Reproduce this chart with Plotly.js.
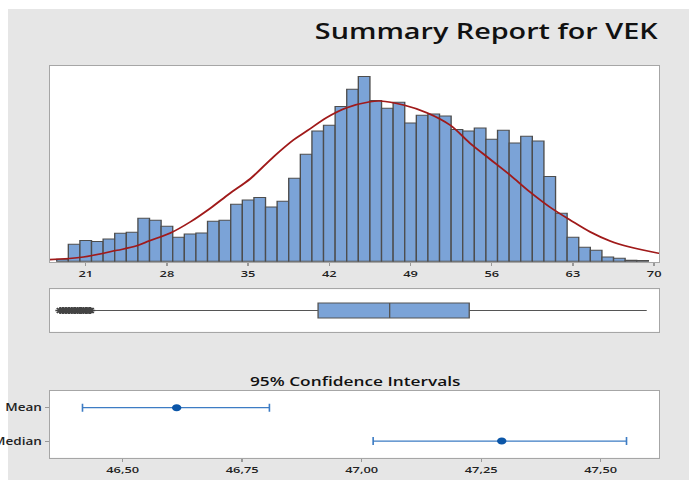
<!DOCTYPE html>
<html><head><meta charset="utf-8">
<script src="https://cdn.plot.ly/plotly-3.0.1.min.js"></script>
<style>
html,body{margin:0;padding:0;background:#fff;overflow:hidden;width:689px;height:480px}
#chart{width:510px;height:480px;transform:scaleX(1.351);transform-origin:0 0}
</style>
</head><body><div id="chart"></div>
<script>
// Histogram of VEK (bin centers, frequency)
const binCenters = [19,20,21,22,23,24,25,26,27,28,29,30,31,32,33,34,35,36,37,38,39,40,41,42,43,44,
  45,46,47,48,49,50,51,52,53,54,55,56,57,58,59,60,61,62,63,64,65,66,67,68,69];
const binFreq = [2,17,20.7,19.7,22.3,28,29,43,41,35,24,27.3,28.3,40,41,57,61.3,63.7,54.3,60,83,107,130.3,136,154.7,172,
  184.7,160.7,153,159,138.3,146,147.3,145.3,131.7,130.3,133.3,122,131,118.3,125,120.3,84.7,48,24,14,11,4.3,3,1,0.7];
// fitted normal curve
const fitX = [17.9,20.8,23.7,25.4,26.5,28.3,30,31.7,33.4,35.2,37.2,38.9,40.1,41.8,43.5,45.5,46.4,48.4,50.4,52.4,
  54.1,55.9,57.6,59.3,61,62.8,64.5,66.2,67.9,70.5];
const fitY = [1.7,4.3,11,15.5,20.5,28.3,39.3,52.7,67.7,82.7,104.6,121.3,130.6,144,153.6,159.6,160.3,156.3,148.6,136.3,
  118.3,101.7,86,69.3,54.3,41,29.3,20.3,14.3,7.7];
const histTicks = [21,28,35,42,49,56,63,70];
// boxplot statistics
const boxQ1 = 41.03, boxMedian = 47.2, boxQ3 = 54.06, boxLow = 21.76, boxHigh = 69.36;
const outliers = [18.8,19.0,19.1,19.3,19.5,19.6,19.8,20.0,20.1,20.3,20.5,20.6,20.8,21.0,21.1,21.3,21.4];
// 95% confidence intervals
const ciLabels = ['Mean','Median'];
const ciLower = [46.416, 47.024];
const ciPoint = [46.613, 47.293];
const ciUpper = [46.807, 47.554];
const ciTicks = [46.5,46.75,47,47.25,47.5];
const ciTickText = ['46,50','46,75','47,00','47,25','47,50'];

const W = 510, H = 480;
const xDom = [37.0/W, 487.8/W];
const frameLine = '#A6A6A6';
const tickFont = {family:'Open Sans', size:9.5, color:'#222', weight:600};
const blueFill = '#7BA3D7';

const traces = [
  {type:'bar', x:binCenters, y:binFreq, width:1, xaxis:'x', yaxis:'y',
   marker:{color:blueFill, line:{color:'#4D4D4D', width:1}}, hoverinfo:'skip'},
  {type:'scatter', mode:'lines', x:fitX, y:fitY, xaxis:'x', yaxis:'y',
   line:{color:'#A01A1A', width:1.6, shape:'spline'}, hoverinfo:'skip'},
  {type:'box', orientation:'h', y:[0], q1:[boxQ1], median:[boxMedian], q3:[boxQ3],
   lowerfence:[boxLow], upperfence:[boxHigh], xaxis:'x2', yaxis:'y2', width:0.7,
   whiskerwidth:0, boxpoints:false, fillcolor:blueFill, line:{color:'#555', width:1}, hoverinfo:'skip'},
  {type:'scatter', mode:'markers', x:outliers, y:outliers.map(()=>0), xaxis:'x2', yaxis:'y2',
   marker:{symbol:'asterisk-open', size:6, color:'#444', line:{color:'#444', width:1.4}}, hoverinfo:'skip'},
  {type:'scatter', mode:'markers', x:ciPoint, y:[1,0], xaxis:'x3', yaxis:'y3',
   error_x:{type:'data', symmetric:false,
     array:ciUpper.map((u,i)=>u-ciPoint[i]), arrayminus:ciPoint.map((p,i)=>p-ciLower[i]),
     color:'#3D7CC4', thickness:1.2, width:4},
   marker:{color:'#0B56A8', size:7}, hoverinfo:'skip'}
];

const frame = {showline:true, mirror:true, linecolor:frameLine, linewidth:1, showgrid:false, zeroline:false};

const layout = {
  width:W, height:H, margin:{l:0,r:0,t:0,b:0},
  paper_bgcolor:'#E6E6E6', plot_bgcolor:'#FFFFFF', showlegend:false, bargap:0,
  font:{family:'Open Sans', color:'#222'},
  xaxis:Object.assign({}, frame, {domain:xDom, range:[17.92,70.42], anchor:'y',
    tickmode:'array', tickvals:histTicks, ticktext:histTicks.map(String),
    ticks:'outside', ticklen:3, tickcolor:'#999', tickfont:tickFont}),
  yaxis:Object.assign({}, frame, {domain:[218/H, 414.3/H], range:[-0.7,195.6], anchor:'x',
    showticklabels:false, ticks:''}),
  xaxis2:Object.assign({}, frame, {domain:xDom, range:[17.92,70.42], anchor:'y2',
    showticklabels:false, ticks:''}),
  yaxis2:Object.assign({}, frame, {domain:[148.3/H, 190.7/H], range:[-1,1], anchor:'x2',
    showticklabels:false, ticks:''}),
  xaxis3:Object.assign({}, frame, {domain:xDom, range:[46.348,47.622], anchor:'y3',
    tickmode:'array', tickvals:ciTicks, ticktext:ciTickText,
    ticks:'outside', ticklen:3, tickcolor:'#999', tickfont:tickFont}),
  yaxis3:Object.assign({}, frame, {domain:[22.3/H, 89/H], range:[-0.5,1.5], anchor:'x3',
    tickmode:'array', tickvals:[1,0], ticktext:ciLabels,
    ticks:'outside', ticklen:3, tickcolor:'#999',
    tickfont:{family:'Open Sans', size:10, color:'#222', weight:600}}),
  shapes:[
    {type:'rect', xref:'paper', yref:'paper', x0:0, x1:1, y0:(H-9)/H, y1:1,
     fillcolor:'#FFFFFF', line:{width:0}, layer:'below'},
    {type:'rect', xref:'paper', yref:'paper', x0:0, x1:5.9/W, y0:0, y1:1,
     fillcolor:'#FFFFFF', line:{width:0}, layer:'below'}
  ],
  annotations:[
    {text:'Summary Report for VEK', xref:'paper', yref:'paper', x:488.5/W, y:(H-30)/H,
     xanchor:'right', yanchor:'middle', showarrow:false,
     font:{family:'Open Sans', size:21.3, color:'#111', weight:600}},
    {text:'95% Confidence Intervals', xref:'paper', yref:'paper', x:262.8/W, y:(H-381)/H,
     xanchor:'center', yanchor:'middle', showarrow:false,
     font:{family:'Open Sans', size:12.8, color:'#111', weight:600}}
  ]
};

Plotly.newPlot('chart', traces, layout, {staticPlot:true, displayModeBar:false});
</script>
</body></html>
